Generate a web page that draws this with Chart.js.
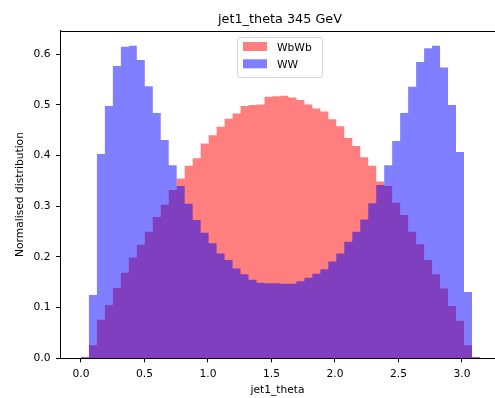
<!DOCTYPE html>
<html><head><meta charset="utf-8">
<script src="https://cdn.jsdelivr.net/npm/chart.js@4/dist/chart.umd.min.js"></script>
<style>html,body{margin:0;padding:0;background:#fff;overflow:hidden}</style>
</head><body>
<canvas id="c" width="495" height="398"></canvas>
<script>
// ---- data ----
const binCount = 50;
const binRange = [0, 3.14159];
const seriesNames = ['WbWb', 'WW'];
const wbwb = [0.002,0.026,0.076,0.105,0.139,0.169,0.199,0.224,0.250,0.279,
              0.303,0.332,0.355,0.380,0.395,0.424,0.440,0.457,0.473,0.483,
              0.498,0.500,0.501,0.516,0.517,0.518,0.515,0.510,0.501,0.493,
              0.487,0.472,0.458,0.435,0.419,0.397,0.380,0.349,0.340,0.307,
              0.283,0.250,0.225,0.194,0.166,0.138,0.103,0.074,0.026,0.002];
const ww = [0.002,0.125,0.403,0.498,0.577,0.615,0.617,0.589,0.537,0.484,
            0.431,0.381,0.340,0.305,0.273,0.248,0.227,0.207,0.194,0.177,
            0.166,0.155,0.149,0.148,0.148,0.147,0.147,0.152,0.159,0.167,
            0.176,0.191,0.207,0.230,0.250,0.274,0.306,0.342,0.381,0.429,
            0.484,0.536,0.585,0.612,0.617,0.574,0.500,0.407,0.131,0.002];
const xTicks = [0.0, 0.5, 1.0, 1.5, 2.0, 2.5, 3.0];
const yTicks = [0.0, 0.1, 0.2, 0.3, 0.4, 0.5, 0.6];
const titleText = 'jet1_theta 345 GeV';
const xLabel = 'jet1_theta';
const yLabel = 'Normalised distribution';

// ---- styles ----
const colors = ['rgba(255,0,0,0.5)', 'rgba(0,0,255,0.5)'];
const FAMILY = "'DejaVu Sans', sans-serif";
const tickFont = {family: FAMILY, size: 10.7};

const edges = Array.from({length: binCount + 1}, (_, i) => binRange[0] + i * (binRange[1] - binRange[0]) / binCount);
function histPoints(vals) {
  const pts = vals.map((v, i) => ({x: edges[i], y: v}));
  pts.push({x: edges[vals.length], y: vals[vals.length - 1]});
  return pts;
}

const deco = {
  id: 'deco',
  afterDraw(chart) {
    const {ctx, chartArea: a} = chart;
    ctx.save();
    // top spine
    ctx.strokeStyle = '#000';
    ctx.lineWidth = 1;
    ctx.beginPath();
    const ty = Math.round(a.top) + 0.5;
    ctx.moveTo(a.left, ty); ctx.lineTo(a.right, ty);
    ctx.stroke();
    // title
    ctx.fillStyle = '#000';
    ctx.font = "12.8px " + FAMILY;
    ctx.textAlign = 'center';
    ctx.textBaseline = 'alphabetic';
    ctx.fillText(titleText, 280, 22.5);
    // legend
    const lx = 237.5, ly = 37.5, lw = 85, lh = 40, r = 2.5;
    ctx.beginPath();
    ctx.moveTo(lx + r, ly);
    ctx.arcTo(lx + lw, ly, lx + lw, ly + lh, r);
    ctx.arcTo(lx + lw, ly + lh, lx, ly + lh, r);
    ctx.arcTo(lx, ly + lh, lx, ly, r);
    ctx.arcTo(lx, ly, lx + lw, ly, r);
    ctx.closePath();
    ctx.fillStyle = 'rgba(255,255,255,0.8)';
    ctx.fill();
    ctx.strokeStyle = 'rgba(204,204,204,0.8)';
    ctx.stroke();
    ctx.font = "10.7px " + FAMILY;
    ctx.textAlign = 'left';
    seriesNames.forEach((name, i) => {
      const y0 = 42 + i * 17.3;
      ctx.fillStyle = colors[i];
      ctx.fillRect(243, y0, 24, 9);
      ctx.fillStyle = '#000';
      ctx.fillText(name, 277, y0 + 9);
    });
    ctx.restore();
  }
};

new Chart(document.getElementById('c'), {
  type: 'line',
  data: {
    datasets: [
      {label: seriesNames[0], data: histPoints(wbwb), stepped: 'before', fill: 'origin',
       backgroundColor: colors[0], borderWidth: 0, pointRadius: 0, order: 1},
      {label: seriesNames[1], data: histPoints(ww), stepped: 'before', fill: 'origin',
       backgroundColor: colors[1], borderWidth: 0, pointRadius: 0, order: 0}
    ]
  },
  options: {
    responsive: false,
    animation: false,
    devicePixelRatio: 1,
    layout: {padding: {top: 30.7, right: 0, bottom: 0, left: 0}},
    plugins: {legend: {display: false}, tooltip: {enabled: false}, title: {display: false}},
    scales: {
      x: {
        type: 'linear', min: -0.165, max: 3.26,
        afterBuildTicks: s => { s.ticks = xTicks.map(v => ({value: v})); },
        afterFit: s => { s.height = 39.7; },
        ticks: {callback: v => Number(v).toFixed(1), font: tickFont, color: '#000', padding: 6, maxRotation: 0, autoSkip: false},
        grid: {display: true, drawOnChartArea: false, drawTicks: true, tickLength: 4, tickColor: '#000', color: '#000'},
        border: {display: true, color: '#000', width: 1},
        title: {display: true, text: xLabel, font: tickFont, color: '#000', padding: {top: 0, bottom: 1.2}}
      },
      y: {
        type: 'linear', min: 0, max: 0.6466,
        afterBuildTicks: s => { s.ticks = yTicks.map(v => ({value: v})); },
        afterFit: s => { s.width = 60; },
        ticks: {callback: v => Number(v).toFixed(1), font: tickFont, color: '#000', padding: 5.5, autoSkip: false},
        grid: {display: true, drawOnChartArea: false, drawTicks: true, tickLength: 4, tickColor: '#000', color: '#000'},
        border: {display: true, color: '#000', width: 1},
        title: {display: true, text: yLabel, font: tickFont, color: '#000', padding: {top: 13.6, bottom: 0}}
      }
    }
  },
  plugins: [deco]
});
</script>
</body></html>
